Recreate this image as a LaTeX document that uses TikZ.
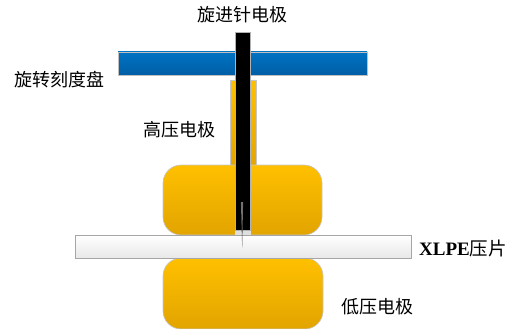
\documentclass[tikz,border=0pt]{standalone}
\usepackage{fontspec}
\setmainfont{Liberation Serif}
\newfontfamily\cjk{Noto Sans CJK SC}
\begin{document}
\begin{tikzpicture}[x=1pt,y=-1pt,
  electrode/.style={draw=gray!45,line width=0.6pt,top color=elecTop,bottom color=elecBot,rounded corners=18pt},
  label/.style={font=\cjk\fontsize{18}{20}\selectfont,inner sep=0pt,anchor=west}]
\definecolor{elecTop}{HTML}{FFC000}
\definecolor{elecBot}{HTML}{E2A400}
\definecolor{dialTop}{HTML}{0072C2}
\definecolor{dialBot}{HTML}{005FA6}
\useasboundingbox (0,0) rectangle (511,329);
% rotary dial
\shade[top color=dialTop,bottom color=dialBot,draw=gray!50,line width=0.5pt] (118,52) rectangle (367,75);
% high-voltage electrode stem
\shade[top color=elecTop,bottom color=elecBot,draw=gray!45,line width=0.5pt] (230,80) rectangle (256,170);
% high-voltage electrode body
\path[electrode] (163,165) rectangle (322,235);
% low-voltage electrode
\path[electrode] (163,258) rectangle (323,329);
% XLPE sample sheet
\shade[top color=white,bottom color=gray!18,draw=gray!70,line width=0.6pt] (75,235) rectangle (411,258);
% needle holder rod
\fill[gray!25] (235,229) rectangle (250.5,235);
\filldraw[fill=black,draw=gray!60,line width=0.4pt] (235,32) rectangle (250.5,230);
% needle tip
\fill[black!70] (240.9,202) -- (243.1,202) -- (242.2,248) -- cycle;
\fill[gray!60] (241.5,202) -- (242.5,202) -- (242.1,230) -- cycle;
% labels
\node[label,anchor=center] (needle) at (242,15) {旋进针电极};
\node[label] (dial) at (14,80) {旋转刻度盘};
\node[label] (hv) at (143,130) {高压电极};
\node[label] (sheet) at (419,248) {\rmfamily\fontsize{19}{20}\selectfont\bfseries XLPE\mdseries\cjk\fontsize{18.5}{20}\selectfont 压片};
\node[label] (lv) at (341,307) {低压电极};
\end{tikzpicture}
\end{document}
